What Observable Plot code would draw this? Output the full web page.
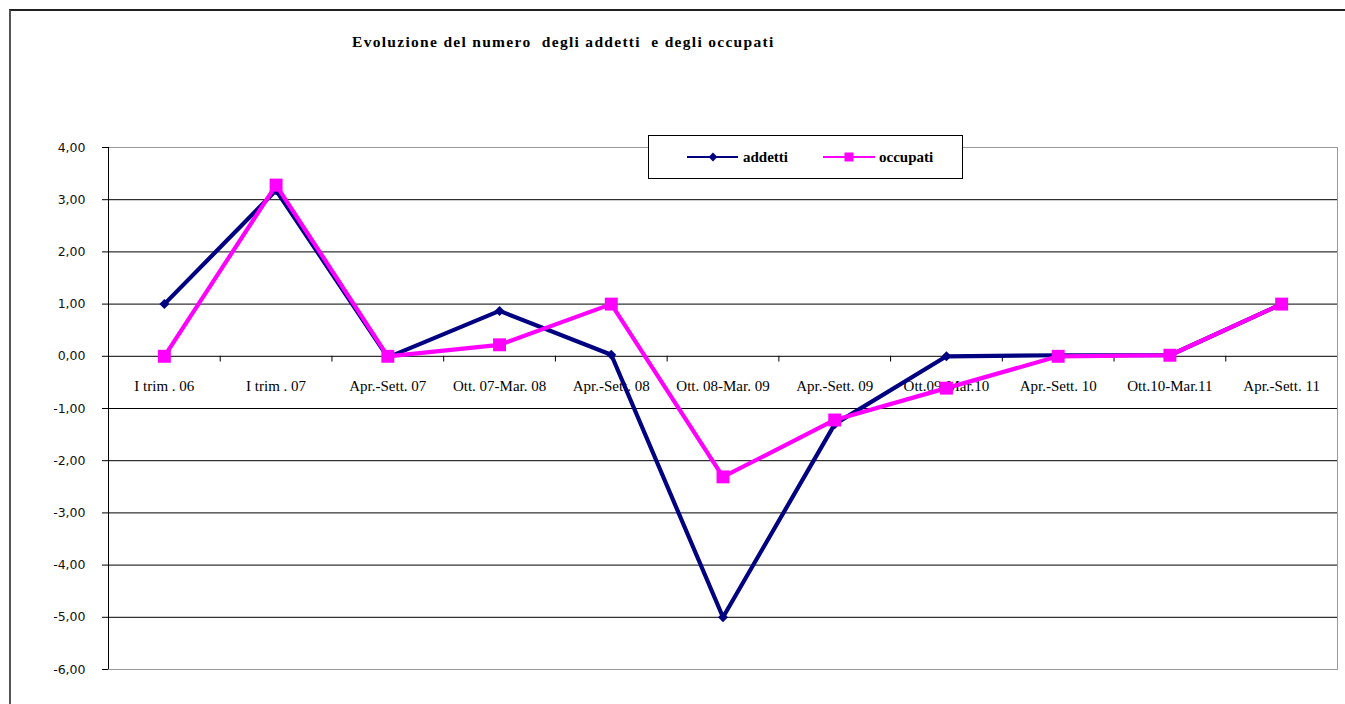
<!DOCTYPE html>
<html>
<head>
<meta charset="utf-8">
<script src="https://cdn.jsdelivr.net/npm/d3@7"></script>
<script src="https://cdn.jsdelivr.net/npm/@observablehq/plot@0.6"></script>
<style>
  html, body { margin: 0; padding: 0; background: #fff; }
  #wrap { position: relative; width: 1345px; height: 704px; overflow: hidden; }
  #chart { position: absolute; left: 0; top: 0; }
  #frame { position: absolute; left: 9px; top: 9px; right: -10px; bottom: -10px;
           border-left: 2px solid #555; border-top: 2px solid #222; pointer-events: none; }
  #title { position: absolute; left: 352px; top: 33px; white-space: pre;
           font-family: "Liberation Serif", "Times New Roman", serif; font-weight: bold; font-size: 15.5px;
           letter-spacing: 1.3px; color: #000; }
  #legend { position: absolute; left: 648px; top: 135px; width: 313px; height: 42px;
            border: 1px solid #000; background: #fff; }
</style>
</head>
<body>
<div id="wrap">
  <div id="chart"></div>
  <div id="title">Evoluzione del numero  degli addetti  e degli occupati</div>
  <div id="legend"></div>
  <div id="frame"></div>
</div>
<script>
const categories = ["I trim . 06", "I trim . 07", "Apr.-Sett. 07", "Ott. 07-Mar. 08", "Apr.-Sett. 08",
  "Ott. 08-Mar. 09", "Apr.-Sett. 09", "Ott.09-Mar.10", "Apr.-Sett. 10", "Ott.10-Mar.11", "Apr.-Sett. 11"];
const addetti  = [1.00, 3.18, -0.02, 0.87, 0.03, -5.00, -1.30, 0.00, 0.02, 0.02, 1.00];
const occupati = [0.00, 3.28, 0.00, 0.22, 1.00, -2.31, -1.22, -0.61, 0.00, 0.02, 1.00];
const seriesNames = ["addetti", "occupati"];
const seriesColors = ["#000080", "#FF00FF"];
const yTicks = [-6, -5, -4, -3, -2, -1, 0, 1, 2, 3, 4];

const rows = categories.map((c, i) => ({i, cat: c, addetti: addetti[i], occupati: occupati[i]}));
const boundaries = categories.slice(1).map((c, i) => i + 0.5);
const inner = yTicks.filter(v => v > -6 && v < 4);
const fmt = d => d.toFixed(2).replace(".", ",");
const serif = '"Liberation Serif", "Times New Roman", serif';

const chart = Plot.plot({
  width: 1345,
  height: 704,
  marginLeft: 108,
  marginRight: 8,
  marginTop: 147,
  marginBottom: 35,
  style: {background: "transparent"},
  x: {domain: [-0.5, categories.length - 0.5], axis: null},
  y: {domain: [-6, 4], axis: null},
  marks: [
    Plot.frame({stroke: "#9a9a9a"}),
    Plot.ruleY(inner, {stroke: "#000", strokeWidth: 1}),
    Plot.ruleX([-0.5], {stroke: "#000", strokeWidth: 1}),
    Plot.axisY({ticks: yTicks, tickFormat: fmt, tickSize: 6, tickPadding: 17, stroke: "#000",
                fontSize: 12.5, fontFamily: '"DejaVu Sans", sans-serif', color: "#111"}),
    Plot.ruleX(boundaries, {x: d => d, y1: 0, y2: -0.11, stroke: "#000"}),
    Plot.text(rows, {x: "i", y: 0, text: "cat", dy: 30, fontFamily: serif, fontSize: 15, fill: "#000",
                     style: {letterSpacing: "0.3px"}}),
    Plot.line(rows, {x: "i", y: "addetti", stroke: seriesColors[0], strokeWidth: 4.2}),
    Plot.dot(rows, {x: "i", y: "addetti", symbol: "diamond2", r: 4.5, fill: seriesColors[0], stroke: "none"}),
    Plot.line(rows, {x: "i", y: "occupati", stroke: seriesColors[1], strokeWidth: 4.2}),
    Plot.dot(rows, {x: "i", y: "occupati", symbol: "square", r: 7.3, fill: seriesColors[1], stroke: "none"})
  ]
});
document.getElementById("chart").appendChild(chart);

// legend
const lg = d3.select("#legend").append("svg").attr("width", 313).attr("height", 42);
const items = [
  {name: seriesNames[0], color: seriesColors[0], x0: 38, xm: 64, x1: 89, tx: 94, sym: "diamond"},
  {name: seriesNames[1], color: seriesColors[1], x0: 174, xm: 200, x1: 226, tx: 230, sym: "square"}
];
items.forEach(it => {
  lg.append("line").attr("x1", it.x0).attr("x2", it.x1).attr("y1", 21).attr("y2", 21)
    .attr("stroke", it.color).attr("stroke-width", 2.2);
  if (it.sym === "diamond") {
    lg.append("path").attr("d", d3.symbol(d3.symbolDiamond2, 50)())
      .attr("transform", `translate(${it.xm},21)`).attr("fill", it.color);
  } else {
    lg.append("rect").attr("x", it.xm - 4.5).attr("y", 16.5).attr("width", 9).attr("height", 9).attr("fill", it.color);
  }
  lg.append("text").attr("x", it.tx).attr("y", 21).attr("dy", "0.35em")
    .attr("font-family", serif).attr("font-weight", "bold").attr("font-size", 15).attr("fill", "#000")
    .text(it.name);
});
</script>
</body>
</html>
